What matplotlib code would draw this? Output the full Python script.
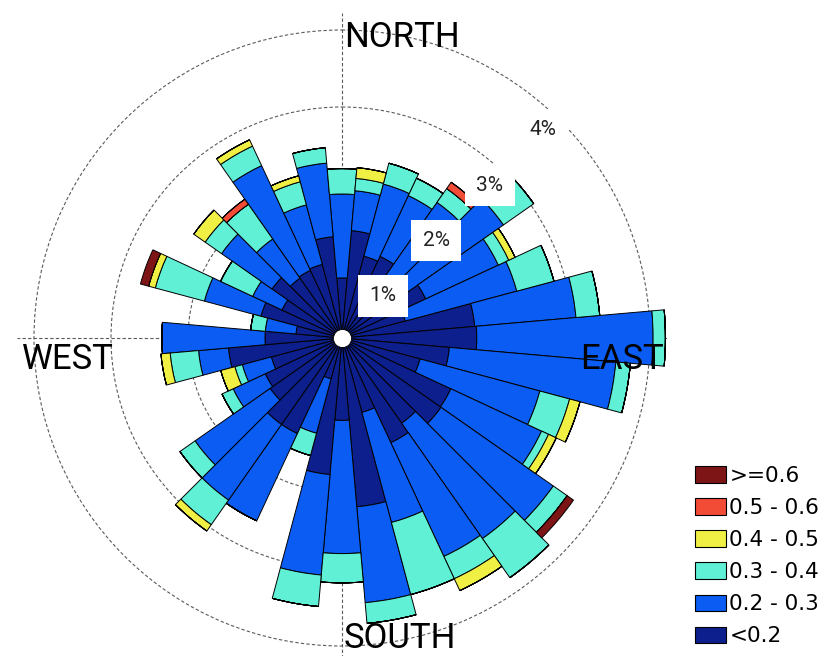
import matplotlib.pyplot as plt
from matplotlib.patches import Patch
import numpy as np

# wind directions (deg, clockwise from north), one bar every 10 deg
directions = np.arange(0, 360, 10)

speed_bins = ['<0.2', '0.2 - 0.3', '0.3 - 0.4', '0.4 - 0.5', '0.5 - 0.6', '>=0.6']
bin_colors = ['#0c1f8c', '#0a5cf2', '#5ff0d6', '#f0f044', '#f24b36', '#7d1517']

# frequency (%) of each speed class per direction
freq_lt02 = [0.78, 1.40, 1.10, 1.17, 1.00, 1.00, 1.20, 0.85, 1.73, 1.75, 1.40, 1.05,
             1.56, 1.57, 1.35, 1.50, 1.00, 2.20, 1.07, 1.78, 0.55, 1.37, 1.37, 1.14,
             1.10, 0.95, 1.48, 1.00, 0.60, 1.09, 0.86, 1.11, 0.95, 0.97, 0.99, 1.32]
freq_02_03 = [1.09, 0.52, 0.97, 0.87, 1.15, 1.56, 1.04, 1.50, 1.32, 2.29, 2.17, 1.61,
              1.30, 1.78, 1.83, 1.63, 1.48, 1.25, 1.73, 1.31, 0.73, 1.25, 1.20, 1.19,
              0.46, 0.39, 0.39, 1.34, 0.40, 0.76, 0.42, 0.80, 0.62, 1.50, 0.80, 0.96]
freq_03_04 = [0.33, 0.16, 0.28, 0.25, 0.22, 0.48, 0.15, 0.50, 0.31, 0.16, 0.19, 0.40,
              0.10, 0.22, 0.62, 0.32, 0.97, 0.27, 0.38, 0.41, 0.30, 0.00, 0.39, 0.24,
              0.16, 0.10, 0.37, 0.00, 0.19, 0.66, 0.46, 0.26, 0.55, 0.28, 0.31, 0.20]
freq_04_05 = [0.00, 0.14, 0.00, 0.00, 0.00, 0.00, 0.09, 0.00, 0.00, 0.00, 0.00, 0.14,
              0.11, 0.00, 0.00, 0.17, 0.00, 0.00, 0.00, 0.00, 0.00, 0.00, 0.10, 0.00,
              0.00, 0.19, 0.12, 0.00, 0.00, 0.09, 0.00, 0.18, 0.00, 0.09, 0.08, 0.00]
freq_05_06 = [0.00, 0.00, 0.00, 0.00, 0.10, 0.00, 0.00, 0.00, 0.00, 0.00, 0.00, 0.00,
              0.00, 0.00, 0.00, 0.00, 0.00, 0.00, 0.00, 0.00, 0.00, 0.00, 0.00, 0.00,
              0.00, 0.00, 0.00, 0.00, 0.00, 0.00, 0.00, 0.00, 0.08, 0.00, 0.00, 0.00]
freq_ge06 = [0.00, 0.00, 0.00, 0.00, 0.00, 0.00, 0.00, 0.00, 0.00, 0.00, 0.00, 0.00,
             0.00, 0.10, 0.00, 0.00, 0.00, 0.00, 0.00, 0.00, 0.00, 0.00, 0.00, 0.00,
             0.00, 0.00, 0.00, 0.00, 0.00, 0.11, 0.00, 0.00, 0.00, 0.00, 0.00, 0.00]

rings = [1, 2, 3, 4]

series = [freq_lt02, freq_02_03, freq_03_04, freq_04_05, freq_05_06, freq_ge06]

W, H = 821, 656
cx, cy = 342, 338          # centre of the rose, pixels from top-left
px_per_pct = 77
r_max = 4.22
size = 2 * r_max * px_per_pct

fig = plt.figure(figsize=(W / 100, H / 100), dpi=100)
ax = fig.add_axes([(cx - size / 2) / W, 1 - (cy + size / 2) / H, size / W, size / H],
                  projection='polar')
ax.set_theta_zero_location('N')
ax.set_theta_direction(-1)
ax.set_ylim(0, r_max)

theta = np.deg2rad(directions)
width = np.deg2rad(10)
bottom = np.zeros(len(directions))
for vals, col in zip(series, bin_colors):
    vals = np.array(vals)
    ax.bar(theta, vals, width=width, bottom=bottom, color=col,
           edgecolor='black', linewidth=0.7, zorder=2)
    bottom += vals

ax.set_rgrids(rings)
ax.set_yticklabels([])
ax.set_thetagrids([0, 90, 180, 270])
ax.set_xticklabels([])
ax.grid(True, color='#5a5a5a', linestyle=(0, (3, 2)), linewidth=0.8)
ax.set_axisbelow(True)
ax.spines['polar'].set_visible(False)

for p in rings:
    ax.text(np.deg2rad(44), p - 0.24, f'{p}%', ha='center', va='center',
            fontsize=15, family='Roboto', color='#222222', zorder=5,
            bbox=dict(facecolor='white', edgecolor='none', boxstyle='square,pad=0.55'))

ax.scatter([0], [0], s=170, c='white', edgecolors='black', linewidths=0.6, zorder=6)

lab = dict(fontsize=25, family='Roboto', textcoords='offset pixels', zorder=7)
ax.annotate('NORTH', xy=(0, 3.78), xytext=(2, 0), ha='left', va='baseline', **lab)
ax.annotate('SOUTH', xy=(np.pi, 4.02), xytext=(2, 0), ha='left', va='baseline', **lab)
ax.annotate('WEST', xy=(np.deg2rad(270), 3.01), xytext=(4, -31), ha='right', va='baseline', **lab)
ax.annotate('EAST', xy=(np.deg2rad(90), 4.16), xytext=(2, -31), ha='right', va='baseline', **lab)

handles = [Patch(facecolor=c, edgecolor='black', linewidth=0.8, label=l)
           for l, c in zip(speed_bins[::-1], bin_colors[::-1])]
fig.legend(handles=handles, loc='upper left', bbox_to_anchor=(695 / W, 1 - 466 / H),
           frameon=False, prop={'family': 'DejaVu Sans', 'size': 15.5}, handlelength=1.45,
           handleheight=0.8, handletextpad=0.15, labelspacing=0.56,
           borderpad=0, borderaxespad=0)

fig.savefig('out.png', dpi=100)
